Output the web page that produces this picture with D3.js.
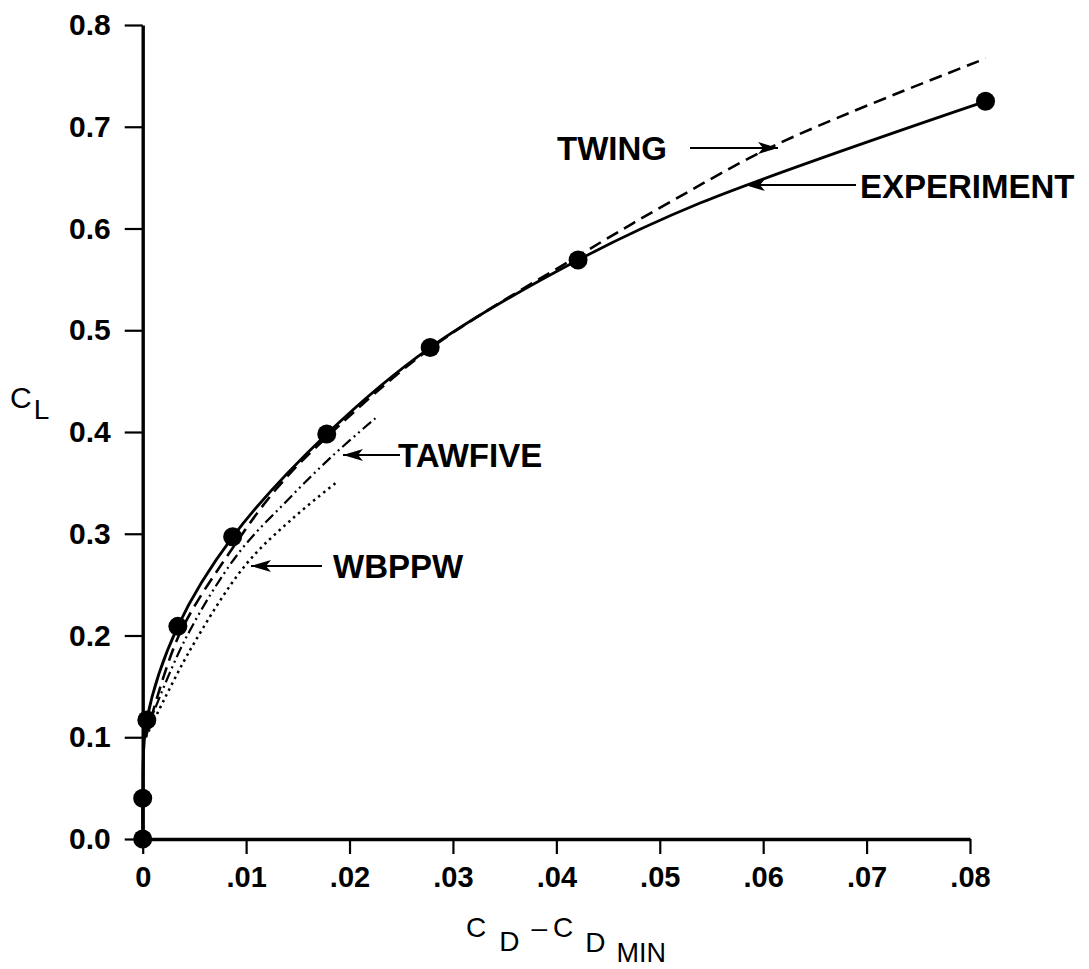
<!DOCTYPE html>
<html>
<head>
<meta charset="utf-8">
<script src="https://cdn.jsdelivr.net/npm/d3@7"></script>
<style>
  html, body { margin: 0; padding: 0; background: #fff; }
  svg { display: block; }
  text { font-family: "Liberation Sans", Arial, Helvetica, sans-serif; fill: #000; }
</style>
</head>
<body>
<svg id="chart" width="1089" height="969"></svg>
<script>
// ---------- data ----------
const xTickValues = [0, 0.01, 0.02, 0.03, 0.04, 0.05, 0.06, 0.07, 0.08];
const xTickLabels = ["0", ".01", ".02", ".03", ".04", ".05", ".06", ".07", ".08"];
const yTickValues = [0, 0.1, 0.2, 0.3, 0.4, 0.5, 0.6, 0.7, 0.8];
const yTickLabels = ["0.0", "0.1", "0.2", "0.3", "0.4", "0.5", "0.6", "0.7", "0.8"];

// Experiment data points (symbols)
const expCd = [0, 0, 0.0004, 0.0034, 0.0087, 0.0178, 0.0278, 0.0421, 0.0815];
const expCl = [0, 0.040, 0.117, 0.209, 0.297, 0.398, 0.483, 0.569, 0.725];
// Experiment faired curve
const expLineCd = [0, 0, 0.0004, 0.0034, 0.0087, 0.0178, 0.0278, 0.0421, 0.0539, 0.0815];
const expLineCl = [0, 0.040, 0.117, 0.209, 0.297, 0.398, 0.483, 0.569, 0.625, 0.725];

// TWING (dashed)
const twingCd = [0.0003, 0.0035, 0.0087, 0.0130, 0.0178, 0.0278, 0.0421, 0.0510, 0.0616, 0.0815];
const twingCl = [0.100, 0.200, 0.286, 0.345, 0.395, 0.482, 0.573, 0.626, 0.684, 0.767];

// TAWFIVE (dash-dot)
const tawCd = [0.0003, 0.0041, 0.0092, 0.0140, 0.0184, 0.0225];
const tawCl = [0.105, 0.196, 0.280, 0.333, 0.377, 0.4135];

// WBPPW (dotted)
const wbCd = [0.0003, 0.0046, 0.0100, 0.0145, 0.0188];
const wbCl = [0.100, 0.186, 0.270, 0.315, 0.351];

// ---------- chart ----------
const svg = d3.select("#chart");
svg.append("rect").attr("width", 1089).attr("height", 969).attr("fill", "#fff");

const x = d3.scaleLinear().domain([0, 0.08]).range([142.7, 970]);
const y = d3.scaleLinear().domain([0, 0.8]).range([839, 25]);

// arrow marker
const defs = svg.append("defs");
defs.append("marker")
  .attr("id", "ah")
  .attr("viewBox", "0 0 20 12")
  .attr("refX", 20).attr("refY", 6)
  .attr("markerWidth", 20).attr("markerHeight", 12)
  .attr("markerUnits", "userSpaceOnUse")
  .attr("orient", "auto")
  .append("path").attr("d", "M0,0 L20,6 L0,12 L5,6 Z").attr("fill", "#000");

// axes
const xAxis = d3.axisBottom(x)
  .tickValues(xTickValues)
  .tickFormat((d, i) => xTickLabels[i])
  .tickSizeInner(15).tickSizeOuter(0).tickPadding(12);
const gx = svg.append("g").attr("transform", `translate(0,${y(0)})`).call(xAxis);
gx.select(".domain").attr("stroke-width", 3.4);
gx.selectAll(".tick line").attr("stroke-width", 2.2);
gx.selectAll(".tick text").attr("font-size", 29).attr("font-weight", "bold")
  .attr("font-family", "'Liberation Sans', Arial, sans-serif");

const yAxis = d3.axisLeft(y)
  .tickValues(yTickValues)
  .tickFormat((d, i) => yTickLabels[i])
  .tickSizeInner(18).tickSizeOuter(0).tickPadding(14);
const gy = svg.append("g").attr("transform", `translate(${x(0)},0)`).call(yAxis);
gy.select(".domain").attr("stroke-width", 3.4);
gy.selectAll(".tick line").attr("stroke-width", 2.2);
gy.selectAll(".tick text").attr("font-size", 30).attr("font-weight", "bold")
  .attr("font-family", "'Liberation Sans', Arial, sans-serif");

// lines
const zip = (a, b) => a.map((v, i) => [v, b[i]]);
const line = d3.line().x(d => x(d[0])).y(d => y(d[1])).curve(d3.curveCatmullRom.alpha(0.5));

svg.append("path").datum(zip(twingCd, twingCl)).attr("d", line)
  .attr("fill", "none").attr("stroke", "#000").attr("stroke-width", 2.6)
  .attr("stroke-dasharray", "13,7");
svg.append("path").datum(zip(tawCd, tawCl)).attr("d", line)
  .attr("fill", "none").attr("stroke", "#000").attr("stroke-width", 2.2)
  .attr("stroke-dasharray", "11,4,2,4,2,4");
svg.append("path").datum(zip(wbCd, wbCl)).attr("d", line)
  .attr("fill", "none").attr("stroke", "#000").attr("stroke-width", 2.5)
  .attr("stroke-dasharray", "2.5,4");
svg.append("path").datum(zip(expLineCd, expLineCl)).attr("d", line)
  .attr("fill", "none").attr("stroke", "#000").attr("stroke-width", 2.8);

svg.append("g").selectAll("circle").data(zip(expCd, expCl)).join("circle")
  .attr("cx", d => x(d[0])).attr("cy", d => y(d[1])).attr("r", 9.5).attr("fill", "#000");

// annotations
function label(txt, tx, ty, x1, x2, ay) {
  svg.append("text").attr("x", tx).attr("y", ty).attr("font-size", 33)
    .attr("font-weight", "bold").text(txt);
  svg.append("line").attr("x1", x1).attr("y1", ay).attr("x2", x2).attr("y2", ay)
    .attr("stroke", "#000").attr("stroke-width", 2).attr("marker-end", "url(#ah)");
}
label("TWING", 557, 160, 690, 778, 148);
label("EXPERIMENT", 860, 198, 856, 745, 185);
label("TAWFIVE", 398, 467, 400, 343, 455);
label("WBPPW", 333, 578, 322, 251, 566);

// axis titles
const yt = svg.append("text").attr("x", 10).attr("y", 408).attr("font-size", 30);
yt.append("tspan").text("C");
yt.append("tspan").attr("dx", 2).attr("dy", 11).attr("font-size", 28).text("L");

const xt = svg.append("text").attr("x", 466).attr("y", 937).attr("font-size", 28);
xt.append("tspan").text("C");
xt.append("tspan").attr("dx", 13).attr("dy", 14).text("D");
xt.append("tspan").attr("dx", 12).attr("dy", -14).text("–");
xt.append("tspan").attr("dx", 6).text("C");
xt.append("tspan").attr("dx", 12).attr("dy", 15).text("D");
xt.append("tspan").attr("dx", 11).attr("dy", 10).attr("font-size", 27).text("MIN");
</script>
</body>
</html>
